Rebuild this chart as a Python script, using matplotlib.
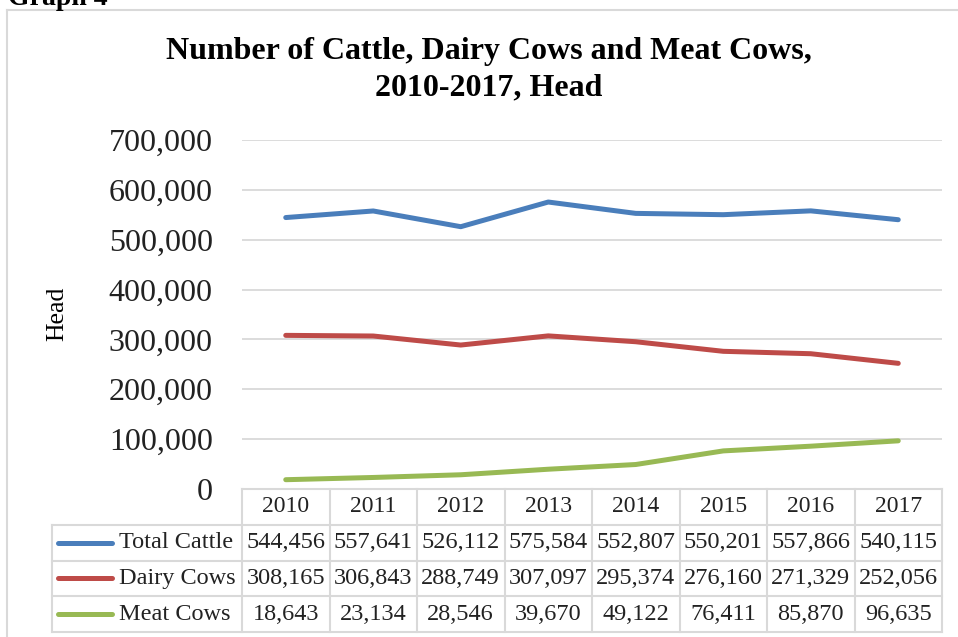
import matplotlib.pyplot as plt
from matplotlib.lines import Line2D
from matplotlib.ticker import FuncFormatter

plt.rcParams['font.family'] = ['Liberation Serif', 'DejaVu Serif']

years = ["2010", "2011", "2012", "2013", "2014", "2015", "2016", "2017"]
series_names = ["Total Cattle", "Dairy Cows", "Meat Cows"]
total_cattle = [544456, 557641, 526112, 575584, 552807, 550201, 557866, 540115]
dairy_cows = [308165, 306843, 288749, 307097, 295374, 276160, 271329, 252056]
meat_cows = [18643, 23134, 28546, 39670, 49122, 76411, 85870, 96635]
colors = ["#4A7EBB", "#BE4B48", "#98B954"]

W, H = 958, 637
fig = plt.figure(figsize=(W / 100, H / 100), dpi=100)


def fx(px):
    return px / W


def fy(py):
    return 1 - py / H


# outer frame (only top/left visible in the crop)
grey = "#d9d9d9"
fig.add_artist(Line2D([fx(7), fx(7)], [fy(10), 0], color=grey, lw=1.5))
fig.add_artist(Line2D([fx(7), 1], [fy(10), fy(10)], color=grey, lw=1.5))
fig.text(fx(8), fy(5), "Graph 4", fontsize=20, fontweight="bold", va="baseline")

# main plot
left, right, top, bottom = 242, 942, 140, 489
ax = fig.add_axes([fx(left), fy(bottom), fx(right - left), (bottom - top) / H])
x = list(range(len(years)))
for vals, c in zip([total_cattle, dairy_cows, meat_cows], colors):
    ax.plot(x, vals, color=c, lw=3.6, solid_capstyle="round")
ax.set_xlim(-0.5, len(years) - 0.5)
ax.set_ylim(0, 700000)
ax.set_yticks(range(0, 700001, 100000))
ax.yaxis.set_major_formatter(FuncFormatter(lambda v, p: f"{int(v):,}"))
ax.tick_params(axis="y", length=0, pad=21, labelsize=23, labelcolor="#222222")
ax.set_xticks([])
ax.grid(axis="y", color=grey, lw=1.3)
ax.set_axisbelow(True)
for s in ax.spines.values():
    s.set_visible(False)
fig.text(fx(57), fy(314), "Head", rotation=90, fontsize=18.5, ha="center", va="center")

fig.text(fx(489), fy(51), "Number of Cattle, Dairy Cows and Meat Cows,",
         fontsize=23, fontweight="bold", ha="center", va="center")
fig.text(fx(489), fy(88), "2010-2017, Head",
         fontsize=23, fontweight="bold", ha="center", va="center")

# data table below
tb_bottom = 632
tax = fig.add_axes([fx(left), fy(tb_bottom), fx(right - left), (tb_bottom - bottom) / H])
tax.set_xlim(-0.5, len(years) - 0.5)
tax.set_ylim(4, 0)
tax.axis("off")
lab_left = -0.5 - (left - 52) / ((right - left) / len(years))
bl = dict(color=grey, lw=1.5, clip_on=False)
# horizontal lines
tax.plot([-0.5, len(years) - 0.5], [0, 0], **bl)
for r in range(1, 5):
    tax.plot([lab_left, len(years) - 0.5], [r, r], **bl)
# vertical lines
for i in range(len(years) + 1):
    tax.plot([i - 0.5, i - 0.5], [0, 4], **bl)
tax.plot([lab_left, lab_left], [1, 4], **bl)

for i, yr in enumerate(years):
    tax.text(i, 0.5, yr, ha="center", va="center", fontsize=17, color="#222222", clip_on=False)
rows = [total_cattle, dairy_cows, meat_cows]
for r, (name, vals, c) in enumerate(zip(series_names, rows, colors)):
    yy = r + 1.5
    for i, v in enumerate(vals):
        tax.text(i, yy, f"{v:,}", ha="center", va="center", fontsize=17.5,
                 color="#222222", clip_on=False)
    tax.plot([lab_left + 0.07, lab_left + 0.69], [yy, yy], color=c, lw=3.6,
             solid_capstyle="round", clip_on=False)
    tax.text(lab_left + 0.76, yy, name, ha="left", va="center", fontsize=17.5,
             color="#222222", clip_on=False)

fig.savefig("out.png", dpi=100)
